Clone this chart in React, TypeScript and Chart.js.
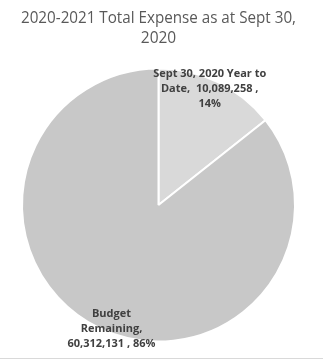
import React, { useEffect, useRef } from "react";
import { Chart, registerables } from "chart.js";

Chart.register(...registerables);

const titleLines = ["2020-2021 Total Expense as at Sept 30,", "2020"];
const categories = ["Sept 30, 2020 Year to Date", "Budget Remaining"];
const values = [10089258, 60312131];
const sliceColors = ["#d9d9d9", "#c8c8c8"];

const fmt = (n: number) => n.toLocaleString("en-US");

function wrap(ctx: CanvasRenderingContext2D, text: string, maxW: number): string[] {
  const tokens = text.split(" ");
  const lines: string[] = [];
  let cur = "";
  for (const t of tokens) {
    const cand = cur === "" ? t : cur + " " + t;
    if (cur !== "" && t !== "" && ctx.measureText(cand.trim()).width > maxW) {
      lines.push(cur.trim());
      cur = t;
    } else {
      cur = cand;
    }
  }
  if (cur.trim() !== "") lines.push(cur.trim());
  return lines;
}

const labelPlugin = {
  id: "pieLabels",
  afterDatasetsDraw(chart: any, _args: any, opts: any) {
    const ctx: CanvasRenderingContext2D = chart.ctx;
    const meta = chart.getDatasetMeta(0);
    const data: number[] = chart.data.datasets[0].data;
    const labels: string[] = chart.data.labels;
    const total = data.reduce((a, b) => a + b, 0);
    ctx.save();
    ctx.font = opts.font;
    ctx.fillStyle = opts.color;
    ctx.textAlign = "center";
    ctx.textBaseline = "middle";
    meta.data.forEach((arc: any, i: number) => {
      const p = arc.getProps(["x", "y", "startAngle", "endAngle", "outerRadius"], true);
      const mid = (p.startAngle + p.endAngle) / 2 + (opts.angleShift[i] * Math.PI) / 180;
      const r = p.outerRadius * opts.radiusFactor[i];
      const cx = p.x + Math.cos(mid) * r;
      const cy = p.y + Math.sin(mid) * r;
      const text = `${labels[i]},  ${fmt(data[i])} , ${Math.round((data[i] / total) * 100)}%`;
      const lines = wrap(ctx, text, opts.wrapWidths[i]);
      lines.forEach((ln, j) => ctx.fillText(ln, cx, cy + (j - (lines.length - 1) / 2) * opts.lineHeight));
    });
    ctx.restore();
  },
};

const framePlugin = {
  id: "frameLine",
  afterDraw(chart: any) {
    const ctx: CanvasRenderingContext2D = chart.ctx;
    ctx.save();
    ctx.strokeStyle = "#d9d9d9";
    ctx.lineWidth = 1;
    ctx.beginPath();
    ctx.moveTo(0, 358.5);
    ctx.lineTo(chart.width, 358.5);
    ctx.stroke();
    ctx.restore();
  },
};

export default function App() {
  const ref = useRef<HTMLCanvasElement>(null);
  useEffect(() => {
    if (!ref.current) return;
    const chart = new Chart(ref.current, {
      type: "pie",
      data: {
        labels: categories,
        datasets: [
          {
            data: values,
            backgroundColor: sliceColors,
            borderColor: "#ffffff",
            borderWidth: 2,
          },
        ],
      },
      options: {
        animation: false,
        responsive: false,
        devicePixelRatio: 1,
        layout: { padding: { left: 21, right: 27, top: 0, bottom: 17 } },
        plugins: {
          legend: { display: false },
          tooltip: { enabled: false },
          title: {
            display: true,
            text: titleLines,
            color: "#595959",
            font: { family: "'Open Sans'", size: 15.5, weight: "normal", lineHeight: "20px" },
            padding: { top: 9, bottom: 18 },
          },
          pieLabels: {
            font: "bold 11px 'Open Sans'",
            color: "#404040",
            lineHeight: 15,
            radiusFactor: [0.93, 0.97],
            angleShift: [-2, -5],
            wrapWidths: [121, 93],
          },
        } as any,
      },
      plugins: [labelPlugin, framePlugin],
    });
    return () => chart.destroy();
  }, []);
  return (
    <div style={{ position: "absolute", left: 0, top: 0, width: 323, height: 360, background: "#fff" }}>
      <canvas ref={ref} width={323} height={360} style={{ display: "block" }} />
    </div>
  );
}
